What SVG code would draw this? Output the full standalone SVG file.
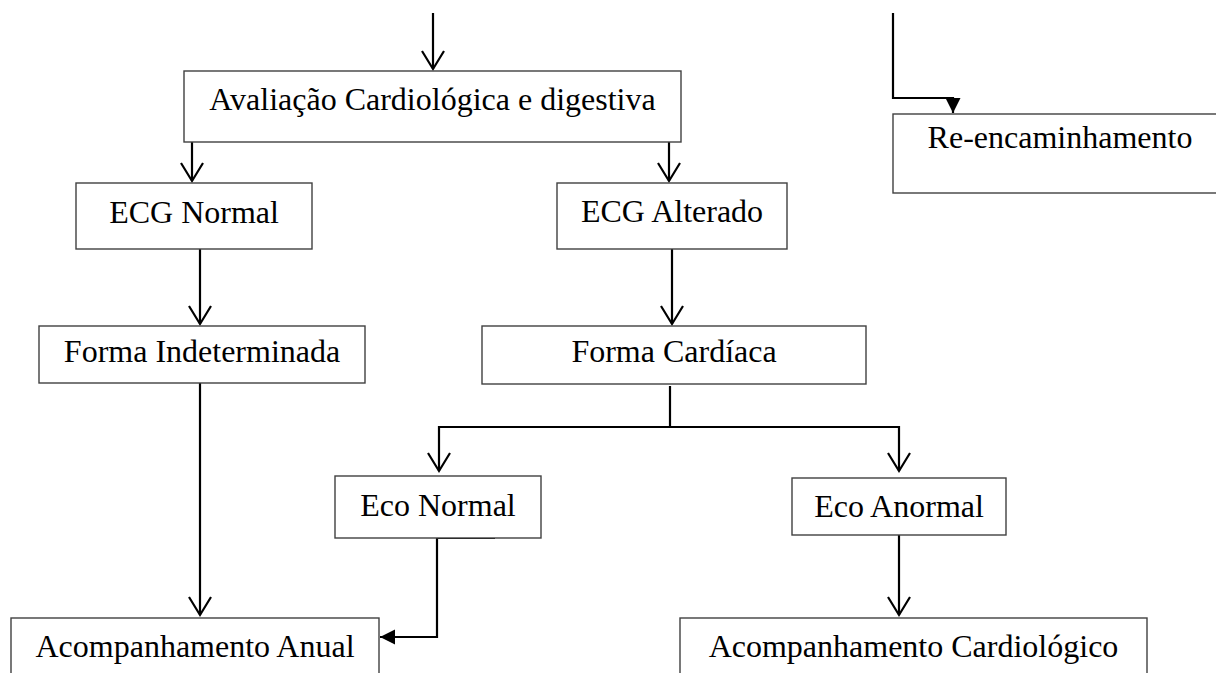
<svg xmlns="http://www.w3.org/2000/svg" width="1216" height="673" viewBox="0 0 1216 673">
<style>
.box{fill:#fff;stroke:#404040;stroke-width:1.4}
.lbl{font-family:"Liberation Serif","Times New Roman",serif;font-size:32px;fill:#000;text-anchor:middle}
.con{fill:none;stroke:#000;stroke-width:2.2}
.open{marker-end:url(#vopen)}
.fill{marker-end:url(#tri)}
</style>
<defs>
<marker id="vopen" markerUnits="userSpaceOnUse" viewBox="-20 -13 23 26" refX="0" refY="0" markerWidth="23" markerHeight="26" orient="auto" overflow="visible">
<path d="M-18,-11 L0,0 L-18,11" fill="none" stroke="#000" stroke-width="2.2"/>
</marker>
<marker id="tri" markerUnits="userSpaceOnUse" viewBox="-16 -9 17 18" refX="0" refY="0" markerWidth="17" markerHeight="18" orient="auto" overflow="visible">
<path d="M-15,-7.5 L0,0 L-15,7.5 Z" fill="#000"/>
</marker>
</defs>
<rect width="1216" height="673" fill="#fff"/>
<g id="connectors">
<path class="con open" d="M433,13 V69"/>
<path class="con open" d="M192,142 V181"/>
<path class="con open" d="M669,142 V181"/>
<path class="con open" d="M200,249 V324"/>
<path class="con open" d="M672,249 V324"/>
<path class="con open" d="M200,383 V615"/>
<path class="con" d="M670,386 V427"/>
<path class="con open" d="M670,427 H439 V471"/>
<path class="con open" d="M670,427 H899 V471"/>
<path class="con open" d="M899,535 V615"/>
<path class="con fill" d="M495,538 H437 V637 H380"/>
<path class="con fill" d="M893,13 V98 H953 V113"/>
</g>
<g id="n-avaliacao"><rect class="box" x="184" y="71" width="497" height="71"/><text class="lbl" x="432.5" y="110">Avaliação Cardiológica e digestiva</text></g>
<g id="n-reencaminhamento"><rect class="box" x="893" y="114" width="340" height="79"/><text class="lbl" x="1060" y="148">Re-encaminhamento</text></g>
<g id="n-ecg-normal"><rect class="box" x="76" y="183" width="236" height="66"/><text class="lbl" x="194" y="223">ECG Normal</text></g>
<g id="n-ecg-alterado"><rect class="box" x="557" y="183" width="230" height="66"/><text class="lbl" x="672" y="222">ECG Alterado</text></g>
<g id="n-forma-indeterminada"><rect class="box" x="39" y="326" width="326" height="57"/><text class="lbl" x="202" y="362">Forma Indeterminada</text></g>
<g id="n-forma-cardiaca"><rect class="box" x="482" y="326" width="384" height="58"/><text class="lbl" x="674" y="362">Forma Cardíaca</text></g>
<g id="n-eco-normal"><rect class="box" x="335" y="476" width="206" height="62"/><text class="lbl" x="438" y="516">Eco Normal</text></g>
<g id="n-eco-anormal"><rect class="box" x="792" y="478" width="214" height="57"/><text class="lbl" x="899" y="517">Eco Anormal</text></g>
<g id="n-acomp-anual"><rect class="box" x="11" y="618" width="368" height="80"/><text class="lbl" x="195" y="657">Acompanhamento Anual</text></g>
<g id="n-acomp-cardiologico"><rect class="box" x="680" y="618" width="467" height="80"/><text class="lbl" x="913.5" y="657">Acompanhamento Cardiológico</text></g>
</svg>
